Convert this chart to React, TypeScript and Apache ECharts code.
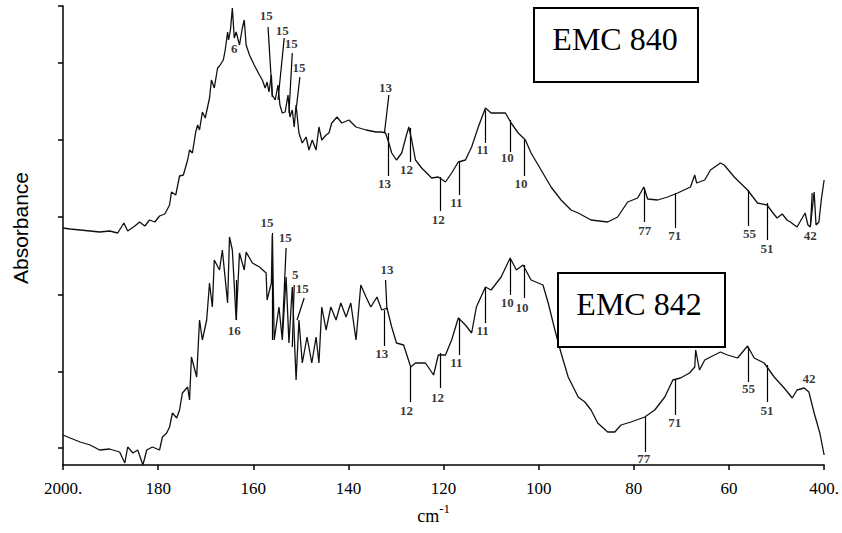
import React, { useEffect, useRef } from "react";
import * as echarts from "echarts";

// x tick values (cm^-1) and their printed labels
const tickValues = [2000, 1800, 1600, 1400, 1200, 1000, 800, 600, 400];
const tickLabels = ["2000.", "180", "160", "140", "120", "100", "80", "60", "400."];
const yTickValues = [17, 93, 170, 248, 325, 402, 459];

// EMC 840 spectrum [wavenumber, absorbance (arb.)]
const emc840: number[][] = [
  [2000, 237], [1985, 236], [1964, 235], [1943, 234], [1923, 233], [1902, 234], [1885, 232], [1872, 242],
  [1864, 234], [1849, 239], [1839, 243], [1828, 239], [1818, 245], [1807, 243], [1797, 249], [1786, 251],
  [1776, 260], [1772, 273], [1763, 270], [1755, 289], [1747, 290], [1738, 305], [1734, 315], [1728, 312],
  [1721, 333], [1717, 340], [1713, 335], [1707, 353], [1701, 347], [1692, 367], [1688, 385], [1682, 377],
  [1675, 397], [1671, 399], [1663, 405], [1659, 415], [1654, 433], [1652, 425], [1648, 435], [1644, 457],
  [1640, 427], [1636, 433], [1629, 420], [1623, 437], [1619, 445], [1615, 420], [1608, 410], [1598, 400],
  [1587, 390], [1581, 385], [1575, 377], [1571, 383], [1567, 373], [1562, 390], [1560, 370], [1554, 365],
  [1548, 380], [1544, 360], [1539, 352], [1533, 353], [1527, 370], [1523, 348], [1518, 355], [1514, 338],
  [1510, 360], [1504, 332], [1497, 322], [1489, 328], [1483, 315], [1476, 325], [1468, 315], [1462, 338],
  [1456, 325], [1447, 330], [1441, 332], [1435, 342], [1424, 348], [1414, 342], [1399, 345], [1384, 338],
  [1363, 335], [1342, 333], [1330, 333], [1322, 332], [1315, 322], [1309, 312], [1299, 305], [1288, 312],
  [1278, 330], [1273, 338], [1267, 325], [1259, 305], [1246, 297], [1225, 287], [1211, 288], [1196, 283],
  [1183, 292], [1169, 303], [1154, 305], [1141, 318], [1127, 338], [1112, 357], [1100, 352], [1070, 352],
  [1058, 342], [1043, 332], [1028, 325], [1016, 312], [995, 295], [974, 278], [953, 265], [932, 255],
  [917, 252], [890, 245], [855, 243], [834, 248], [813, 263], [792, 267], [779, 278], [771, 266],
  [750, 265], [729, 268], [708, 272], [681, 278], [672, 290], [668, 282], [651, 285], [639, 295],
  [618, 302], [610, 300], [589, 288], [561, 275], [540, 262], [520, 260], [509, 253], [499, 247],
  [488, 251], [478, 245], [471, 243], [457, 238], [446, 247], [440, 252], [434, 240], [429, 238],
  [421, 273], [417, 240], [411, 243], [406, 265], [400, 285],
];

// EMC 842 spectrum
const emc842: number[][] = [
  [2000, 30], [1985, 27], [1964, 23], [1943, 20], [1923, 15], [1902, 16], [1881, 13], [1870, 2],
  [1864, 18], [1853, 12], [1843, 15], [1832, 0], [1824, 15], [1812, 18], [1797, 15], [1791, 28],
  [1782, 32], [1776, 38], [1770, 52], [1761, 47], [1755, 55], [1749, 72], [1738, 78], [1734, 65],
  [1730, 108], [1719, 88], [1713, 145], [1707, 125], [1698, 145], [1692, 182], [1686, 158], [1682, 205],
  [1671, 195], [1665, 215], [1654, 162], [1650, 228], [1644, 215], [1636, 145], [1629, 212], [1619, 195],
  [1615, 213], [1602, 202], [1587, 198], [1573, 192], [1571, 165], [1562, 182], [1560, 230], [1556, 125],
  [1546, 158], [1539, 125], [1531, 188], [1525, 122], [1518, 178], [1510, 85], [1504, 145], [1497, 102],
  [1487, 128], [1477, 102], [1468, 128], [1462, 102], [1456, 158], [1447, 135], [1437, 158], [1426, 145],
  [1416, 162], [1405, 148], [1395, 162], [1384, 125], [1374, 180], [1363, 168], [1353, 158], [1340, 168],
  [1330, 155], [1319, 157], [1309, 138], [1299, 122], [1284, 120], [1269, 98], [1259, 102], [1238, 102],
  [1221, 90], [1211, 110], [1196, 110], [1183, 125], [1169, 147], [1154, 140], [1141, 132], [1131, 158],
  [1112, 178], [1100, 175], [1079, 188], [1060, 207], [1047, 195], [1033, 200], [1016, 185], [991, 180],
  [980, 162], [966, 135], [953, 112], [938, 88], [917, 68], [903, 63], [890, 55], [876, 42],
  [855, 33], [840, 33], [827, 40], [806, 43], [777, 48], [756, 55], [735, 68], [718, 85],
  [702, 87], [683, 92], [672, 98], [670, 115], [662, 95], [651, 105], [639, 108], [618, 113],
  [603, 110], [582, 107], [561, 119], [547, 107], [526, 102], [505, 88], [484, 77], [467, 67],
  [457, 75], [442, 77], [432, 73], [421, 52], [415, 42], [409, 32], [400, 10],
];

// band labels: [x, y, text]
const labels840: (number | string)[][] = [
  [1640, 417, "6"], [1573, 450, "15"], [1539, 435, "15"], [1520, 422, "15"], [1504, 398, "15"],
  [1322, 378, "13"], [1324, 282, "13"], [1278, 296, "12"], [1211, 246, "12"], [1173, 263, "11"],
  [1118, 316, "11"], [1066, 308, "10"], [1037, 282, "10"], [777, 235, "77"], [714, 230, "71"],
  [557, 232, "55"], [520, 217, "51"], [429, 230, "42"],
];
const labels842: (number | string)[][] = [
  [1571, 243, "15"], [1533, 228, "15"], [1512, 191, "5"], [1497, 177, "15"], [1640, 135, "16"],
  [1319, 196, "13"], [1330, 112, "13"], [1278, 55, "12"], [1213, 68, "12"], [1173, 103, "11"],
  [1118, 135, "11"], [1066, 163, "10"], [1035, 158, "10"], [779, 7, "77"], [714, 43, "71"],
  [559, 77, "55"], [520, 55, "51"], [432, 87, "42"],
];

// leader lines: [x1, y1, x2, y2]
const leaders840: number[][] = [
  [1569, 438, 1560, 368], [1535, 427, 1548, 365], [1518, 412, 1525, 352], [1502, 388, 1510, 355],
  [1315, 370, 1324, 333], [1317, 332, 1317, 289], [1271, 337, 1271, 303], [1206, 288, 1206, 254],
  [1167, 303, 1167, 270], [1112, 355, 1112, 322], [1060, 345, 1060, 313], [1030, 325, 1030, 289],
  [779, 277, 779, 243], [714, 272, 714, 237], [559, 275, 559, 239], [520, 262, 520, 225],
  [425, 272, 429, 238],
];
const leaders842: number[][] = [
  [1560, 232, 1560, 125], [1531, 217, 1539, 132], [1514, 180, 1518, 118], [1493, 167, 1508, 145],
  [1636, 185, 1636, 145], [1322, 185, 1319, 155], [1324, 155, 1324, 119], [1269, 98, 1269, 63],
  [1206, 112, 1206, 77], [1167, 147, 1167, 110], [1112, 177, 1112, 142], [1060, 205, 1060, 170],
  [1030, 200, 1030, 167], [777, 48, 777, 13], [714, 85, 714, 50], [559, 118, 559, 83],
  [520, 100, 520, 63],
];

const SERIF = "'Liberation Serif', 'Times New Roman', serif";

export default function App() {
  const ref = useRef<HTMLDivElement>(null);
  useEffect(() => {
    if (!ref.current) return;
    const chart = echarts.init(ref.current, undefined, { renderer: "svg" });
    const labelStyle = {
      show: true,
      position: "inside" as const,
      formatter: (p: any) => String(p.data[2]),
      color: "#000",
      fontFamily: SERIF,
      fontWeight: "bold" as const,
      fontSize: 13,
    };
    chart.setOption({
      animation: false,
      backgroundColor: "#fff",
      grid: { left: 63, right: 15, top: 6, bottom: 68 },
      xAxis: {
        type: "value",
        min: 400,
        max: 2000,
        interval: 200,
        inverse: true,
        axisLine: { show: true, lineStyle: { color: "#000", width: 1.5 } },
        axisTick: { show: true, length: 5, lineStyle: { color: "#000", width: 1.5 } },
        axisLabel: {
          color: "#000",
          fontFamily: SERIF,
          fontSize: 17,
          margin: 15,
          formatter: (v: number) => {
            const i = tickValues.indexOf(v);
            return i >= 0 ? tickLabels[i] : "";
          },
        },
        splitLine: { show: false },
        name: "{a|cm}{b|-1}",
        nameLocation: "middle",
        nameGap: 37,
        nameTextStyle: {
          padding: [0, 20, 0, 0],
          rich: {
            a: { fontFamily: SERIF, fontSize: 18, color: "#000", verticalAlign: "bottom" },
            b: { fontFamily: SERIF, fontSize: 13, color: "#000", verticalAlign: "top", padding: [0, 0, 10, 0] },
          },
        },
      },
      yAxis: {
        type: "value",
        min: 0,
        max: 459,
        axisLine: { show: true, lineStyle: { color: "#000", width: 1.5 } },
        axisTick: { show: true, length: 5, customValues: yTickValues, lineStyle: { color: "#000", width: 1.5 } },
        axisLabel: { show: false },
        splitLine: { show: false },
      },
      graphic: [
        {
          type: "text",
          x: 20,
          y: 228,
          rotation: Math.PI / 2,
          z: 100,
          style: {
            text: "Absorbance",
            fontFamily: "'Liberation Sans', Arial, sans-serif",
            fontSize: 21,
            fill: "#000",
            textAlign: "center",
            textVerticalAlign: "middle",
          },
        },
        {
          type: "rect",
          z: 100,
          shape: { x: 534, y: 8, width: 164, height: 74 },
          style: { fill: "#fff", stroke: "#000", lineWidth: 2 },
        },
        {
          type: "text",
          z: 101,
          x: 615,
          y: 39,
          style: {
            text: "EMC 840",
            fontFamily: SERIF,
            fontSize: 32,
            fill: "#000",
            textAlign: "center",
            textVerticalAlign: "middle",
          },
        },
        {
          type: "rect",
          z: 100,
          shape: { x: 558, y: 273, width: 167, height: 74 },
          style: { fill: "#fff", stroke: "#000", lineWidth: 2 },
        },
        {
          type: "text",
          z: 101,
          x: 639,
          y: 304,
          style: {
            text: "EMC 842",
            fontFamily: SERIF,
            fontSize: 32,
            fill: "#000",
            textAlign: "center",
            textVerticalAlign: "middle",
          },
        },
      ],
      series: [
        {
          name: "EMC 840",
          type: "line",
          data: emc840,
          showSymbol: false,
          lineStyle: { color: "#111", width: 1.3 },
        },
        {
          name: "EMC 842",
          type: "line",
          data: emc842,
          showSymbol: false,
          lineStyle: { color: "#111", width: 1.3 },
        },
        {
          type: "lines",
          coordinateSystem: "cartesian2d",
          data: [...leaders840, ...leaders842].map((l) => ({ coords: [[l[0], l[1]], [l[2], l[3]]] })),
          lineStyle: { color: "#000", width: 1.2, opacity: 1 },
          symbol: "none",
        },
        {
          type: "scatter",
          data: [...labels840, ...labels842],
          symbol: "rect",
          symbolSize: 1,
          itemStyle: { color: "rgba(0,0,0,0)" },
          label: labelStyle,
          z: 5,
        },
      ],
    });
    return () => chart.dispose();
  }, []);
  return <div ref={ref} style={{ width: 842, height: 533, position: "absolute", left: 0, top: 0 }} />;
}
